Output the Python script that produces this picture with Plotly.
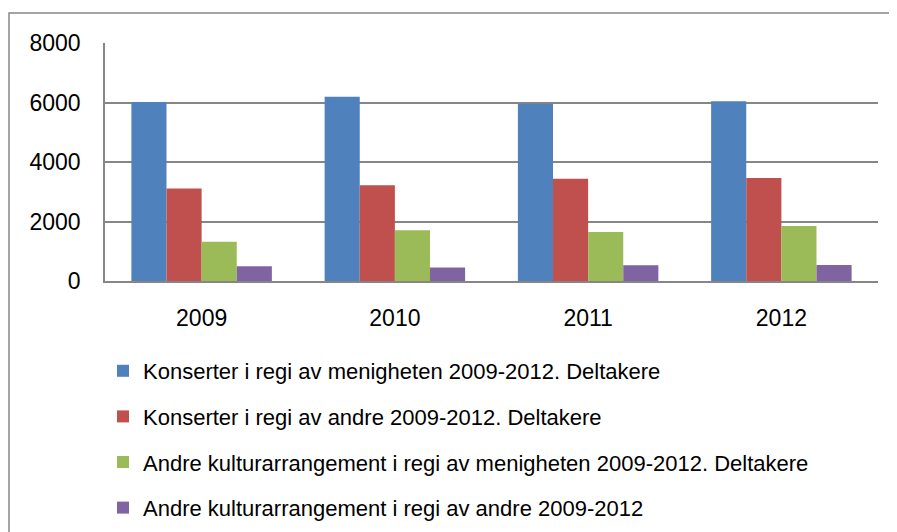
import plotly.graph_objects as go

years = ["2009", "2010", "2011", "2012"]
series_names = [
    "Konserter i regi av menigheten 2009-2012. Deltakere",
    "Konserter i regi av andre 2009-2012. Deltakere",
    "Andre kulturarrangement i regi av menigheten 2009-2012. Deltakere",
    "Andre kulturarrangement i regi av andre 2009-2012",
]
konserter_menighet = [6020, 6190, 5960, 6040]
konserter_andre = [3110, 3220, 3440, 3460]
kultur_menighet = [1320, 1710, 1650, 1850]
kultur_andre = [500, 450, 530, 540]

colors = ["#4F81BD", "#C0504D", "#9BBB59", "#8064A2"]
values = [konserter_menighet, konserter_andre, kultur_menighet, kultur_andre]

FONT = "Liberation Sans, Arial, sans-serif"
# the page body has an 8px margin, so the figure is made 8px smaller and everything shifted
OFF = 8
W, H = 897 - OFF, 532 - OFF
L, R, T, B = 105 - OFF, 19, 43 - OFF, 251
pw = W - L - R
ph = H - T - B

fig = go.Figure()
for i, (name, vals) in enumerate(zip(series_names, values)):
    fig.add_trace(go.Bar(
        x=years, y=vals, name=name,
        marker=dict(color=colors[i], line=dict(width=0)),
        legendgroup=f"g{i}",
    ))


def px_x(v):
    return (v - OFF - L) / pw


def px_y(v):
    return (T + ph - (v - OFF)) / ph


# outer chart border (left/top visible, rest runs off the image)
fig.add_shape(type="rect", xref="paper", yref="paper",
              x0=px_x(9), x1=px_x(905), y0=px_y(540), y1=px_y(13),
              line=dict(color="#868686", width=1.5), layer="below")

fig.update_layout(
    width=W, height=H,
    margin=dict(l=L, r=R, t=T, b=B, autoexpand=False),
    paper_bgcolor="white", plot_bgcolor="white",
    font=dict(family=FONT, size=23, color="black"),
    barmode="group", bargap=0.273, bargroupgap=0,
    showlegend=True,
    legend=dict(x=px_x(103), y=px_y(350), xanchor="left", yanchor="top",
                orientation="v", tracegroupgap=14, font=dict(family=FONT, size=22),
                itemwidth=30, bgcolor="rgba(0,0,0,0)"),
    xaxis=dict(showgrid=False, showline=True, linecolor="#868686", linewidth=1.5,
               ticks="", ticklabelstandoff=16, tickfont=dict(size=23)),
    yaxis=dict(range=[0, 8000], dtick=2000, showgrid=True, gridcolor="#868686", gridwidth=1.5,
               showline=True, linecolor="#868686", linewidth=1.5, zeroline=False,
               ticks="", ticklabelstandoff=18, tickfont=dict(size=23)),
)

fig.write_html("out.html")
